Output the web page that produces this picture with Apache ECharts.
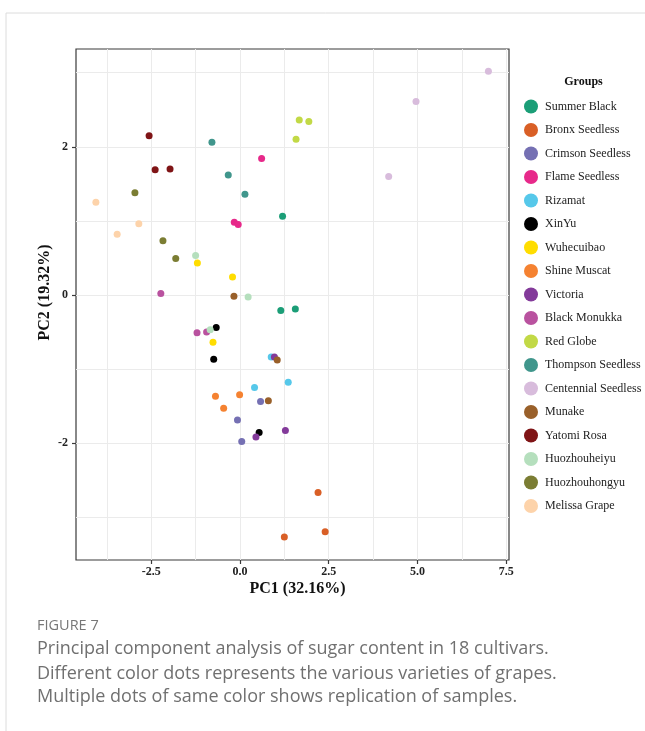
<!DOCTYPE html>
<html>
<head>
<meta charset="utf-8">
<script src="https://cdn.jsdelivr.net/npm/echarts@6/dist/echarts.min.js"></script>
<style>
html,body{margin:0;padding:0;background:#fff;}
#chart{width:645px;height:731px;}
</style>
</head>
<body>
<div id="chart"></div>
<script>
// ---- data ----
const groups = ["Summer Black","Bronx Seedless","Crimson Seedless","Flame Seedless","Rizamat","XinYu","Wuhecuibao","Shine Muscat","Victoria","Black Monukka","Red Globe","Thompson Seedless","Centennial Seedless","Munake","Yatomi Rosa","Huozhouheiyu","Huozhouhongyu","Melissa Grape"];
const groupColors = ["#1b9e77","#d95f26","#7570b3","#e7298a","#56c8ea","#000000","#ffdd00","#f58231","#833a9a","#b9529f","#c2d946","#40968c","#d8bcdc","#99602a","#7f1416","#b5dfbd","#7b7d33","#fdd3aa"];
const pc1Values = [
  [1.20, 1.15, 1.56],
  [2.20, 2.40, 1.25],
  [0.58, -0.07, 0.05],
  [0.61, -0.16, -0.05],
  [0.88, 1.36, 0.41],
  [-0.67, -0.74, 0.54],
  [-1.20, -0.21, -0.76],
  [-0.69, -0.01, -0.46],
  [0.97, 1.28, 0.45],
  [-2.23, -0.94, -1.21],
  [1.67, 1.94, 1.58],
  [-0.79, -0.33, 0.14],
  [7.00, 4.96, 4.19],
  [-0.17, 1.05, 0.80],
  [-2.56, -2.39, -1.97],
  [-1.25, 0.23, -0.84],
  [-2.96, -2.17, -1.81],
  [-4.06, -2.85, -3.46]
];
const pc2Values = [
  [1.06, -0.21, -0.19],
  [-2.67, -3.20, -3.27],
  [-1.44, -1.69, -1.98],
  [1.84, 0.98, 0.95],
  [-0.84, -1.18, -1.25],
  [-0.44, -0.87, -1.86],
  [0.43, 0.24, -0.64],
  [-1.37, -1.35, -1.53],
  [-0.84, -1.83, -1.92],
  [0.02, -0.50, -0.51],
  [2.36, 2.34, 2.10],
  [2.06, 1.62, 1.36],
  [3.02, 2.61, 1.60],
  [-0.02, -0.88, -1.43],
  [2.15, 1.69, 1.70],
  [0.53, -0.03, -0.47],
  [1.38, 0.73, 0.49],
  [1.25, 0.96, 0.82]
];
const xTickLabels = [-2.5, 0, 2.5, 5, 7.5];
const xGridValues = [-3.75, -2.5, -1.25, 0, 1.25, 2.5, 3.75, 5, 6.25, 7.5];
const yTickLabels = [-2, 0, 2];
const yGridValues = [-3, -2, -1, 0, 1, 2, 3];
const xRange = [-4.62, 7.58];
const yRange = [-3.58, 3.32];
const xTitle = "PC1 (32.16%)";
const yTitle = "PC2 (19.32%)";
const legendTitle = "Groups";
const figLabel = "FIGURE 7";
const captionLines = [
  "Principal component analysis of sugar content in 18 cultivars.",
  "Different color dots represents the various varieties of grapes.",
  "Multiple dots of same color shows replication of samples."
];

// ---- chart ----
const serif = "'Liberation Serif', 'Times New Roman', serif";
const sans = "'Open Sans', sans-serif";
const chart = echarts.init(document.getElementById('chart'), null, {renderer: 'canvas'});

const series = groups.map((g, i) => ({
  name: g,
  type: 'scatter',
  xAxisIndex: 1,
  yAxisIndex: 1,
  symbol: 'circle',
  symbolSize: 7,
  itemStyle: {color: groupColors[i], opacity: 1},
  emphasis: {disabled: true},
  data: pc1Values[i].map((x, j) => [x, pc2Values[i][j]])
}));

const option = {
  animation: false,
  backgroundColor: '#ffffff',
  grid: {left: 76, top: 49, width: 433, height: 511, show: true, borderColor: '#3a3a3a', borderWidth: 1.2, backgroundColor: 'transparent', containLabel: false},
  xAxis: [
    {
      type: 'value', gridIndex: 0, min: xRange[0], max: xRange[1], position: 'bottom',
      axisLine: {show: false, onZero: false},
      axisLabel: {show: false},
      axisTick: {show: false, customValues: xGridValues},
      splitLine: {show: true, lineStyle: {color: '#ebebeb', width: 1}}
    },
    {
      type: 'value', gridIndex: 0, min: xRange[0], max: xRange[1], position: 'bottom',
      axisLine: {show: false, onZero: false},
      splitLine: {show: false},
      axisTick: {show: true, length: 4, customValues: xTickLabels, lineStyle: {color: '#3a3a3a', width: 1.2}},
      axisLabel: {show: true, customValues: xTickLabels, margin: 6, formatter: v => v.toFixed(1),
        fontFamily: serif, fontWeight: 'bold', fontSize: 12, color: '#222'}
    }
  ],
  yAxis: [
    {
      type: 'value', gridIndex: 0, min: yRange[0], max: yRange[1], position: 'left',
      axisLine: {show: false, onZero: false},
      axisLabel: {show: false},
      axisTick: {show: false, customValues: yGridValues},
      splitLine: {show: true, lineStyle: {color: '#ebebeb', width: 1}}
    },
    {
      type: 'value', gridIndex: 0, min: yRange[0], max: yRange[1], position: 'left',
      axisLine: {show: false, onZero: false},
      splitLine: {show: false},
      axisTick: {show: true, length: 4, customValues: yTickLabels, lineStyle: {color: '#3a3a3a', width: 1.2}},
      axisLabel: {show: true, customValues: yTickLabels, margin: 8, formatter: v => String(v),
        fontFamily: serif, fontWeight: 'bold', fontSize: 12, color: '#222'}
    }
  ],
  legend: {
    orient: 'vertical', left: 524, top: 99.5, padding: 0,
    itemWidth: 18, itemHeight: 14, itemGap: 9.5,
    icon: 'circle',
    symbolKeepAspect: true,
    selectedMode: false,
    data: groups,
    textStyle: {fontFamily: serif, fontSize: 12, color: '#222'}
  },
  graphic: [
    {type: 'line', shape: {x1: 6, y1: 13, x2: 645, y2: 13}, style: {stroke: '#dcdcdc', lineWidth: 1}, silent: true},
    {type: 'line', shape: {x1: 6, y1: 13, x2: 6, y2: 731}, style: {stroke: '#dcdcdc', lineWidth: 1}, silent: true},
    {type: 'text', x: 583.5, y: 81.5, style: {text: legendTitle, fontFamily: serif, fontWeight: 'bold', fontSize: 12, fill: '#111', align: 'center', verticalAlign: 'middle'}},
    {type: 'text', x: 297.5, y: 589, style: {text: xTitle, fontFamily: serif, fontWeight: 'bold', fontSize: 16, fill: '#111', align: 'center', verticalAlign: 'middle'}},
    {type: 'text', x: 45, y: 292.5, rotation: Math.PI / 2, style: {text: yTitle, fontFamily: serif, fontWeight: 'bold', fontSize: 16, fill: '#111', align: 'center', verticalAlign: 'middle'}},
    {type: 'text', x: 37, y: 626, style: {text: figLabel, fontFamily: sans, fontSize: 14.5, fill: '#777', align: 'left', verticalAlign: 'middle'}},
    {type: 'text', x: 37, y: 649, style: {text: captionLines[0], fontFamily: sans, fontSize: 18, fill: '#707070', align: 'left', verticalAlign: 'middle'}},
    {type: 'text', x: 37, y: 673.5, style: {text: captionLines[1], fontFamily: sans, fontSize: 18, fill: '#707070', align: 'left', verticalAlign: 'middle'}},
    {type: 'text', x: 37, y: 697, style: {text: captionLines[2], fontFamily: sans, fontSize: 18, fill: '#707070', align: 'left', verticalAlign: 'middle'}}
  ],
  series: series
};
chart.setOption(option);
</script>
</body>
</html>
